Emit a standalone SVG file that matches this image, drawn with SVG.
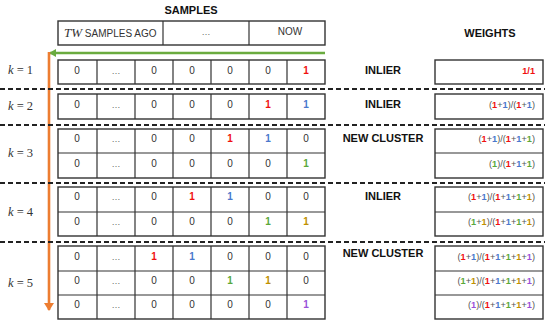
<svg xmlns="http://www.w3.org/2000/svg" width="550" height="327" viewBox="0 0 550 327">
<defs>
<style>
.cell{fill:#fff;stroke:#333;stroke-width:1.4}
.sep{stroke:#333;stroke-width:1.2}
.d{font-family:"Liberation Sans",Arial,sans-serif;font-size:10px;fill:#333;text-anchor:middle}
.dots{font-family:"Liberation Sans",Arial,sans-serif;font-size:9px;fill:#666;text-anchor:middle}
.lab{font-family:"Liberation Sans",Arial,sans-serif;font-size:11px;font-weight:bold;fill:#111;text-anchor:middle}
.w{font-family:"Liberation Sans",Arial,sans-serif;font-size:9.2px;fill:#555;text-anchor:end}
.k{font-family:"Liberation Serif","Times New Roman",serif;font-size:12.5px;fill:#333}
.dash{stroke:#222;stroke-width:1.8;stroke-dasharray:5,3}
.r{fill:#f01010;font-weight:bold}
.b{fill:#4a78cc;font-weight:bold}
.g{fill:#5aa83a;font-weight:bold}
.y{fill:#c09000;font-weight:bold}
.p{fill:#9a50d8;font-weight:bold}
</style>
<marker id="ag" markerWidth="8" markerHeight="8" refX="6" refY="4" orient="auto" markerUnits="userSpaceOnUse"><path d="M0,0 L7,4 L0,8 z" fill="#6aab3f"/></marker>
<marker id="ao" markerWidth="10" markerHeight="10" refX="7" refY="5" orient="auto" markerUnits="userSpaceOnUse"><path d="M0,0 L8,5 L0,10 z" fill="#ed7d31"/></marker>
</defs>
<rect width="550" height="327" fill="#fff"/>

<g id="titles">
<text class="lab" x="191" y="14">SAMPLES</text>
<text class="lab" x="490" y="37">WEIGHTS</text>
</g>

<g id="header">
<rect class="cell" x="58" y="21" width="267" height="24"/>
<line class="sep" x1="163" y1="21" x2="163" y2="45"/>
<line class="sep" x1="249" y1="21" x2="249" y2="45"/>
<text x="64" y="37" font-family="Liberation Sans,Arial,sans-serif" font-size="10px" fill="#333"><tspan font-family="Liberation Serif,serif" font-style="italic" font-size="13px">TW</tspan> SAMPLES AGO</text>
<text class="dots" x="206" y="35">…</text>
<text class="d" x="290" y="35">NOW</text>
</g>

<g id="connectors">
<line x1="325" y1="53" x2="50" y2="53" stroke="#6aab3f" stroke-width="2.6" marker-end="url(#ag)"/>
<line x1="49" y1="52" x2="49" y2="310" stroke="#ed7d31" stroke-width="2.6" marker-end="url(#ao)"/>
</g>

<g id="dividers">
<line class="dash" x1="0" y1="89" x2="545" y2="89"/>
<line class="dash" x1="0" y1="125" x2="545" y2="125"/>
<line class="dash" x1="0" y1="183" x2="545" y2="183"/>
<line class="dash" x1="0" y1="242" x2="545" y2="242"/>
</g>

<g id="k1">
<text class="k" x="8" y="74"><tspan font-style="italic">k</tspan> = 1</text>
<rect class="cell" x="58" y="60" width="267" height="24"/>
<path class="sep" d="M97,60V84M135,60V84M173,60V84M211,60V84M249,60V84M287,60V84"/>
<text class="d" y="74"><tspan x="77">0</tspan><tspan x="154">0</tspan><tspan x="192">0</tspan><tspan x="230">0</tspan><tspan x="268">0</tspan><tspan x="306" class="r">1</tspan></text>
<text class="dots" x="116" y="74">…</text>
<text class="lab" x="383" y="74">INLIER</text>
<rect class="cell" x="435" y="60" width="108" height="24"/>
<text class="w" x="535" y="74"><tspan class="r">1/1</tspan></text>
</g>

<g id="k2">
<text class="k" x="8" y="110"><tspan font-style="italic">k</tspan> = 2</text>
<rect class="cell" x="58" y="94" width="267" height="25"/>
<path class="sep" d="M97,94V119M135,94V119M173,94V119M211,94V119M249,94V119M287,94V119"/>
<text class="d" y="108"><tspan x="77">0</tspan><tspan x="154">0</tspan><tspan x="192">0</tspan><tspan x="230">0</tspan><tspan x="268" class="r">1</tspan><tspan x="306" class="b">1</tspan></text>
<text class="dots" x="116" y="108">…</text>
<text class="lab" x="383" y="108">INLIER</text>
<rect class="cell" x="435" y="94" width="108" height="25"/>
<text class="w" x="535" y="108">(<tspan class="r">1</tspan>+<tspan class="b">1</tspan>)/(<tspan class="r">1</tspan>+<tspan class="b">1</tspan>)</text>
</g>

<g id="k3">
<text class="k" x="8" y="157"><tspan font-style="italic">k</tspan> = 3</text>
<rect class="cell" x="58" y="129" width="267" height="49"/>
<path class="sep" d="M58,153H325M97,129V178M135,129V178M173,129V178M211,129V178M249,129V178M287,129V178"/>
<text class="d" y="142"><tspan x="77">0</tspan><tspan x="154">0</tspan><tspan x="192">0</tspan><tspan x="230" class="r">1</tspan><tspan x="268" class="b">1</tspan><tspan x="306">0</tspan></text>
<text class="d" y="167"><tspan x="77">0</tspan><tspan x="154">0</tspan><tspan x="192">0</tspan><tspan x="230">0</tspan><tspan x="268">0</tspan><tspan x="306" class="g">1</tspan></text>
<text class="dots" x="116" y="142">…</text>
<text class="dots" x="116" y="167">…</text>
<text class="lab" x="383" y="142">NEW CLUSTER</text>
<rect class="cell" x="435" y="129" width="108" height="49"/>
<line class="sep" x1="435" y1="153" x2="543" y2="153"/>
<text class="w" x="535" y="142">(<tspan class="r">1</tspan>+<tspan class="b">1</tspan>)/(<tspan class="r">1</tspan>+<tspan class="b">1</tspan>+<tspan class="g">1</tspan>)</text>
<text class="w" x="535" y="167">(<tspan class="g">1</tspan>)/(<tspan class="r">1</tspan>+<tspan class="b">1</tspan>+<tspan class="g">1</tspan>)</text>
</g>

<g id="k4">
<text class="k" x="8" y="216"><tspan font-style="italic">k</tspan> = 4</text>
<rect class="cell" x="58" y="187" width="267" height="49"/>
<path class="sep" d="M58,212H325M97,187V236M135,187V236M173,187V236M211,187V236M249,187V236M287,187V236"/>
<text class="d" y="200"><tspan x="77">0</tspan><tspan x="154">0</tspan><tspan x="192" class="r">1</tspan><tspan x="230" class="b">1</tspan><tspan x="268">0</tspan><tspan x="306">0</tspan></text>
<text class="d" y="225"><tspan x="77">0</tspan><tspan x="154">0</tspan><tspan x="192">0</tspan><tspan x="230">0</tspan><tspan x="268" class="g">1</tspan><tspan x="306" class="y">1</tspan></text>
<text class="dots" x="116" y="200">…</text>
<text class="dots" x="116" y="225">…</text>
<text class="lab" x="383" y="200">INLIER</text>
<rect class="cell" x="435" y="187" width="108" height="49"/>
<line class="sep" x1="435" y1="212" x2="543" y2="212"/>
<text class="w" x="535" y="200">(<tspan class="r">1</tspan>+<tspan class="b">1</tspan>)/(<tspan class="r">1</tspan>+<tspan class="b">1</tspan>+<tspan class="g">1</tspan>+<tspan class="y">1</tspan>)</text>
<text class="w" x="535" y="225">(<tspan class="g">1</tspan>+<tspan class="y">1</tspan>)/(<tspan class="r">1</tspan>+<tspan class="b">1</tspan>+<tspan class="g">1</tspan>+<tspan class="y">1</tspan>)</text>
</g>

<g id="k5">
<text class="k" x="8" y="287"><tspan font-style="italic">k</tspan> = 5</text>
<rect class="cell" x="58" y="246" width="267" height="73"/>
<path class="sep" d="M58,271H325M58,295H325M97,246V319M135,246V319M173,246V319M211,246V319M249,246V319M287,246V319"/>
<text class="d" y="260"><tspan x="77">0</tspan><tspan x="154" class="r">1</tspan><tspan x="192" class="b">1</tspan><tspan x="230">0</tspan><tspan x="268">0</tspan><tspan x="306">0</tspan></text>
<text class="d" y="284"><tspan x="77">0</tspan><tspan x="154">0</tspan><tspan x="192">0</tspan><tspan x="230" class="g">1</tspan><tspan x="268" class="y">1</tspan><tspan x="306">0</tspan></text>
<text class="d" y="308"><tspan x="77">0</tspan><tspan x="154">0</tspan><tspan x="192">0</tspan><tspan x="230">0</tspan><tspan x="268">0</tspan><tspan x="306" class="p">1</tspan></text>
<text class="dots" x="116" y="260">…</text>
<text class="dots" x="116" y="284">…</text>
<text class="dots" x="116" y="308">…</text>
<text class="lab" x="383" y="257">NEW CLUSTER</text>
<rect class="cell" x="435" y="246" width="108" height="73"/>
<path class="sep" d="M435,271H543M435,295H543"/>
<text class="w" x="535" y="260">(<tspan class="r">1</tspan>+<tspan class="b">1</tspan>)/(<tspan class="r">1</tspan>+<tspan class="b">1</tspan>+<tspan class="g">1</tspan>+<tspan class="y">1</tspan>+<tspan class="p">1</tspan>)</text>
<text class="w" x="535" y="284">(<tspan class="g">1</tspan>+<tspan class="y">1</tspan>)/(<tspan class="r">1</tspan>+<tspan class="b">1</tspan>+<tspan class="g">1</tspan>+<tspan class="y">1</tspan>+<tspan class="p">1</tspan>)</text>
<text class="w" x="535" y="308">(<tspan class="p">1</tspan>)/(<tspan class="r">1</tspan>+<tspan class="b">1</tspan>+<tspan class="g">1</tspan>+<tspan class="y">1</tspan>+<tspan class="p">1</tspan>)</text>
</g>
</svg>
